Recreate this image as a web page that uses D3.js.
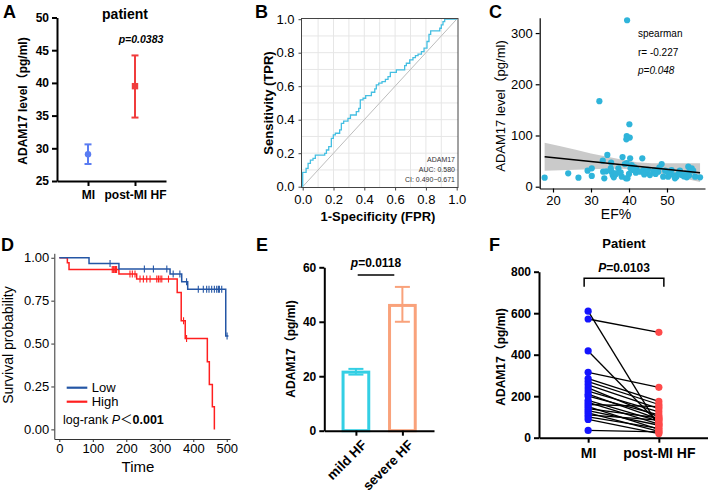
<!DOCTYPE html>
<html><head><meta charset="utf-8">
<script src="https://cdn.jsdelivr.net/npm/d3@7"></script>
<style>
body{margin:0;background:#fff}
svg{font-family:Arial,"Liberation Sans","Noto Sans CJK SC",sans-serif}
</style></head><body>
<svg id="c" width="708" height="496"></svg>
<script>
// ---------- DATA ----------
// A
const aGroups = ["MI", "post-MI HF"];
const aMean = [29.1, 39.5];
const aLow = [27.6, 34.7];
const aHigh = [30.6, 44.2];
const aTicks = [25, 30, 35, 40, 45, 50];
// B (ROC step corners)
const rocFpr = [0,0,0.022,0.035,0.050,0.067,0.082,0.143,0.154,0.169,0.186,0.199,0.212,0.240,0.251,0.266,0.294,0.310,0.348,0.364,0.374,0.392,0.409,0.446,0.468,0.478,0.494,0.515,0.537,0.554,0.569,0.608,0.662,0.673,0.695,0.716,0.732,0.749,0.771,0.788,0.807,0.820,0.831,0.890,0.900,0.911,0.922,1.0];
const rocTpr = [0,0.086,0.110,0.139,0.159,0.169,0.189,0.199,0.219,0.239,0.289,0.309,0.319,0.339,0.378,0.392,0.408,0.428,0.448,0.468,0.518,0.528,0.544,0.564,0.584,0.608,0.618,0.627,0.641,0.657,0.683,0.697,0.723,0.737,0.757,0.771,0.783,0.791,0.807,0.827,0.867,0.910,0.930,0.946,0.966,0.986,1.0,1.0];
const bTicks = [0, 0.2, 0.4, 0.6, 0.8, 1.0];
const bGrid = [0.1,0.2,0.3,0.4,0.5,0.6,0.7,0.8,0.9];
const bText = ["ADAM17", "AUC: 0.580", "CI: 0.490\u22120.671"];
// C
const cEF = [17.8,24.0,26.7,29.1,30.2,30.2,32.2,33.1,34.3,33.2,33.5,35.3,35.2,35.4,35.7,36.0,36.3,37.2,38.1,38.3,38.9,39.2,39.4,39.6,40.3,40.4,40.7,41.1,41.8,42.0,42.9,43.5,43.8,44.5,45.5,46.4,46.8,47.7,48.6,49.0,49.5,50.3,50.8,51.2,52.1,52.5,53.4,53.9,55.2,55.6,56.1,56.5,56.9,57.4,58.7,39.5,40.1,39.4,40.2,39.3,36.6,37.8,40.0,41.5,44.0,45.0,47.0,48.0,50.0,51.8,53.0,54.5,55.0,55.8,34.0];
const cADAM = [17.6,26.1,17.6,31.3,35.8,21.1,167,50.9,62,29.3,16.3,46.9,35.8,29.3,22.8,18.3,26.1,35.8,19.5,57.8,44.1,16.3,46,16.3,55.4,35.8,42.3,32.6,27.4,33.9,29.3,55.4,32.6,29.3,22.8,29.3,32.6,29.3,44.1,19.5,31.3,19.5,26.1,32.6,16.3,19.5,31.3,22.8,18.3,39.1,32.6,35.8,31.3,19.5,18.3,325,122,99,96,92.5,25,28,25,38,24,33,25,38,30,22,25,20,26,22,30];
const cFitX = [17.8, 58.7];
const cFitY = [58.6, 27.4];
const cBandX = [17.8, 22, 26, 30, 34, 38, 42, 46, 50, 54, 58.7];
const cBandLo = [31, 32, 33, 34, 35, 35, 33, 29, 23, 17, 9];
const cBandHi = [86, 79, 72, 65, 59, 53, 48, 46, 46, 46, 46];
const cXTicks = [20, 30, 40, 50];
const cYTicks = [0, 100, 200, 300];
const cStats = ["spearman", "r= -0.227", "p=0.048"];
// D (Kaplan-Meier)
const kmLowT = [0, 88.7, 178, 330.7, 365.5, 383.4, 497, 505];
const kmLowS = [1, 0.967, 0.934, 0.905, 0.86, 0.817, 0.544, 0.544];
const kmLowCens = [151.5, 254, 281, 321, 340, 360, 380, 415, 430, 440, 447, 455, 463, 470, 475, 478, 485, 501];
const kmHighT = [0, 24, 29, 178, 231, 352, 364, 376, 442, 448, 457, 463];
const kmHighS = [1, 0.971, 0.932, 0.905, 0.876, 0.797, 0.633, 0.53, 0.394, 0.262, 0.132, 0];
const kmHighCens = [158, 161, 163, 166, 168, 171, 211, 218, 226, 241, 251, 261, 271, 291, 296, 301, 306, 326, 371, 380];
const dXTicks = [0, 100, 200, 300, 400, 500];
const dYTicks = [0, 0.25, 0.5, 0.75, 1];
const dLegend = ["Low", "High"];
// E
const eGroups = ["mild HF", "severe HF"];
const eMean = [21.5, 46.0];
const eLow = [20.6, 40.0];
const eHigh = [22.7, 52.8];
const eTicks = [0, 20, 40, 60];
// F (paired)
const fGroups = ["MI", "post-MI HF"];
const fMI = [610,572,418,315,285,270,255,240,225,210,200,180,170,160,150,140,130,120,110,100,88,35];
const fHF = [55,508,70,243,175,160,140,100,125,90,110,80,65,150,40,95,60,30,85,45,20,28];
const fTicks = [0, 200, 400, 600, 800];

// ---------- DRAW ----------
const svg = d3.select("#c");
function styleAx(g, o) {
  g.selectAll(".domain").attr("stroke", o.color || "#000").attr("stroke-width", o.w || 1);
  g.selectAll(".tick line").attr("stroke", o.color || "#000").attr("stroke-width", o.w || 1);
  g.selectAll(".tick text").attr("fill", "#000").style("font-size", (o.fs || 12) + "px")
    .style("font-weight", o.bold ? "bold" : "normal").style("font-family", "Arial,'Liberation Sans',sans-serif");
}
function label(x, y, t) {
  svg.append("text").attr("x", x).attr("y", y).text(t)
    .style("font-size", "18px").style("font-weight", "bold");
}
function ytitle(x, y, t, fs, bold) {
  svg.append("text").attr("transform", `translate(${x},${y}) rotate(-90)`)
    .attr("text-anchor", "middle").text(t)
    .style("font-size", fs + "px").style("font-weight", bold ? "bold" : "normal");
}

// ===== Panel A =====
{
  const x = d3.scalePoint().domain(aGroups).range([57, 166]).padding(0.66);
  const y = d3.scaleLinear().domain([25, 50]).range([181, 17.5]);
  const gx = svg.append("g").attr("transform", "translate(0,181)")
    .call(d3.axisBottom(x).tickSize(5).tickSizeOuter(0).tickPadding(4));
  styleAx(gx, {w: 2, bold: true, fs: 12});
  const gy = svg.append("g").attr("transform", "translate(57,0)")
    .call(d3.axisLeft(y).tickValues(aTicks).tickSize(5).tickSizeOuter(0).tickPadding(3));
  styleAx(gy, {w: 2, bold: true, fs: 12});
  const cols = ["#5a7cf2", "#f03c3c"];
  aGroups.forEach((g, i) => {
    const cx = x(g);
    svg.append("line").attr("x1", cx).attr("x2", cx).attr("y1", y(aLow[i])).attr("y2", y(aHigh[i]))
      .attr("stroke", cols[i]).attr("stroke-width", 2);
    [aLow[i], aHigh[i]].forEach(v => svg.append("line").attr("x1", cx - 3.5).attr("x2", cx + 3.5)
      .attr("y1", y(v)).attr("y2", y(v)).attr("stroke", cols[i]).attr("stroke-width", 2));
    if (i === 0) svg.append("circle").attr("cx", cx).attr("cy", y(aMean[i])).attr("r", 3.2).attr("fill", cols[i]);
    else svg.append("rect").attr("x", cx - 3.2).attr("y", y(aMean[i]) - 3.2).attr("width", 6.4).attr("height", 6.4).attr("fill", cols[i]);
  });
  svg.append("text").attr("x", 125).attr("y", 19).attr("text-anchor", "middle").text("patient")
    .style("font-size", "14px").style("font-weight", "bold");
  svg.append("text").attr("x", 141).attr("y", 43).attr("text-anchor", "middle").text("p=0.0383")
    .style("font-size", "10.5px").style("font-weight", "bold").style("font-style", "italic");
  ytitle(27, 101, "ADAM17 level（pg/ml)", 12, true);
  label(3, 18, "A");
}

// ===== Panel B =====
{
  const x = d3.scaleLinear().domain([0, 1]).range([302.7, 456.7]);
  const y = d3.scaleLinear().domain([0, 1]).range([186.7, 19.2]);
  const g = svg.append("g");
  bGrid.forEach(v => {
    g.append("line").attr("x1", x(v)).attr("x2", x(v)).attr("y1", 18.5).attr("y2", 187.5).attr("stroke", "#e6e6e6").attr("stroke-width", 1);
    g.append("line").attr("y1", y(v)).attr("y2", y(v)).attr("x1", 301.5).attr("x2", 458).attr("stroke", "#e6e6e6").attr("stroke-width", 1);
  });
  g.append("line").attr("x1", x(0)).attr("y1", y(0)).attr("x2", x(1)).attr("y2", y(1)).attr("stroke", "#bdbdbd").attr("stroke-width", 1);
  const pts = rocFpr.map((f, i) => [f, rocTpr[i]]);
  g.append("path").datum(pts).attr("fill", "none").attr("stroke", "#45bfe2").attr("stroke-width", 1.3)
    .attr("d", d3.line().x(d => x(d[0])).y(d => y(d[1])).curve(d3.curveStepAfter));
  g.append("rect").attr("x", 301.5).attr("y", 18.5).attr("width", 156.5).attr("height", 169)
    .attr("fill", "none").attr("stroke", "#444").attr("stroke-width", 1);
  const gx = svg.append("g").attr("transform", "translate(0,187.5)")
    .call(d3.axisBottom(x).tickValues(bTicks).tickFormat(d3.format(".1f")).tickSize(3).tickSizeOuter(0).tickPadding(4));
  gx.select(".domain").remove();
  styleAx(gx, {color: "#444", fs: 13});
  const gy = svg.append("g").attr("transform", "translate(301.5,0)")
    .call(d3.axisLeft(y).tickValues(bTicks).tickFormat(d3.format(".1f")).tickSize(3).tickSizeOuter(0).tickPadding(4));
  gy.select(".domain").remove();
  styleAx(gy, {color: "#444", fs: 13});
  bText.forEach((t, i) => svg.append("text").attr("x", 455).attr("y", 161.5 + i * 10).attr("text-anchor", "end")
    .text(t).style("font-size", "7px").attr("fill", "#333"));
  svg.append("text").attr("x", 378).attr("y", 221).attr("text-anchor", "middle").text("1-Specificity (FPR)")
    .style("font-size", "13px").style("font-weight", "bold");
  ytitle(273, 103, "Sensitivity (TPR)", 13, true);
  label(255, 18, "B");
}

// ===== Panel C =====
{
  const x = d3.scaleLinear().domain([16.5, 60]).range([539.7, 705]);
  const y = d3.scaleLinear().domain([-3.5, 330]).range([188.5, 17.7]);
  const g = svg.append("g");
  const band = cBandX.map((v, i) => [v, cBandLo[i], cBandHi[i]]);
  g.append("path").datum(band).attr("fill", "#c4c4c4").attr("opacity", 0.9)
    .attr("d", d3.area().x(d => x(d[0])).y0(d => y(d[1])).y1(d => y(d[2])));
  cEF.forEach((e, i) => g.append("circle").attr("cx", x(e)).attr("cy", y(cADAM[i])).attr("r", 3.1).attr("fill", "#2fb4da"));
  g.append("line").attr("x1", x(cFitX[0])).attr("y1", y(cFitY[0])).attr("x2", x(cFitX[1])).attr("y2", y(cFitY[1]))
    .attr("stroke", "#000").attr("stroke-width", 1.5);
  const gx = svg.append("g").attr("transform", "translate(0,188.5)")
    .call(d3.axisBottom(x).tickValues(cXTicks).tickSize(4).tickSizeOuter(0).tickPadding(3));
  styleAx(gx, {w: 1.2, fs: 13});
  const gy = svg.append("g").attr("transform", "translate(539.7,0)")
    .call(d3.axisLeft(y).tickValues(cYTicks).tickSize(4).tickSizeOuter(0).tickPadding(3));
  styleAx(gy, {w: 1.2, fs: 13});
  cStats.forEach((t, i) => svg.append("text").attr("x", 638).attr("y", 37 + i * 18.5).text(t)
    .style("font-size", "10px").style("font-style", i === 2 ? "italic" : "normal"));
  svg.append("text").attr("x", 616).attr("y", 219).attr("text-anchor", "middle").text("EF%").style("font-size", "14px");
  ytitle(505, 106, "ADAM17 level（pg/ml)", 13, false);
  label(489, 18, "C");
}

// ===== Panel D =====
{
  const x = d3.scaleLinear().domain([-15, 510]).range([54.3, 230.1]);
  const y = d3.scaleLinear().domain([-0.056, 1.026]).range([439, 253.3]);
  const g = svg.append("g");
  const series = [
    {t: kmLowT, s: kmLowS, c: kmLowCens, col: "#2456a5"},
    {t: kmHighT, s: kmHighS, c: kmHighCens, col: "#ff1f1f"}
  ];
  [series[1], series[0]].forEach(se => {
    const pts = se.t.map((t, i) => [t, se.s[i]]);
    g.append("path").datum(pts).attr("fill", "none").attr("stroke", se.col).attr("stroke-width", 1.5)
      .attr("d", d3.line().x(d => x(d[0])).y(d => y(d[1])).curve(d3.curveStepAfter));
    se.c.forEach(ct => {
      let sv = se.s[0];
      se.t.forEach((tt, i) => { if (tt <= ct) sv = se.s[i]; });
      g.append("line").attr("x1", x(ct)).attr("x2", x(ct)).attr("y1", y(sv) - 3.5).attr("y2", y(sv) + 3.5)
        .attr("stroke", se.col).attr("stroke-width", 1.1);
    });
  });
  const gx = svg.append("g").attr("transform", "translate(0,439)")
    .call(d3.axisBottom(x).tickValues(dXTicks).tickSize(3).tickSizeOuter(0).tickPadding(1.5));
  styleAx(gx, {color: "#333", fs: 13});
  const gy = svg.append("g").attr("transform", "translate(54.3,0)")
    .call(d3.axisLeft(y).tickValues(dYTicks).tickFormat(d3.format(".2f")).tickSize(3).tickSizeOuter(0).tickPadding(2));
  styleAx(gy, {color: "#333", fs: 13});
  const lc = ["#2456a5", "#ff1f1f"];
  dLegend.forEach((t, i) => {
    svg.append("line").attr("x1", 66.7).attr("x2", 87.3).attr("y1", 387.7 + i * 14).attr("y2", 387.7 + i * 14)
      .attr("stroke", lc[i]).attr("stroke-width", 2.2);
    svg.append("text").attr("x", 91.7).attr("y", 392.3 + i * 14).text(t).style("font-size", "13px");
  });
  const lr = svg.append("text").attr("x", 63).attr("y", 423.5).style("font-size", "12.5px");
  lr.append("tspan").text("log-rank ");
  lr.append("tspan").text("P").style("font-style", "italic");
  lr.append("tspan").text("＜");
  lr.append("tspan").text("0.001").style("font-weight", "bold");
  svg.append("text").attr("x", 138).attr("y", 471.5).attr("text-anchor", "middle").text("Time").style("font-size", "15px");
  ytitle(13, 345, "Survival probability", 14, false);
  label(1, 251, "D");
}

// ===== Panel E =====
{
  const x = d3.scalePoint().domain(eGroups).range([324.3, 434]).padding(0.68);
  const y = d3.scaleLinear().domain([0, 60]).range([430.7, 267.3]);
  const cols = ["#33cfe4", "#f9a27b"];
  const bw = 28.7;
  eGroups.forEach((gname, i) => {
    const cx = x(gname);
    svg.append("rect").attr("x", cx - bw / 2 + 1.5).attr("y", y(eMean[i])).attr("width", bw - 3)
      .attr("height", y(0) - y(eMean[i])).attr("fill", "#fff").attr("stroke", cols[i]).attr("stroke-width", 3);
    svg.append("line").attr("x1", cx).attr("x2", cx).attr("y1", y(eLow[i])).attr("y2", y(eHigh[i]))
      .attr("stroke", cols[i]).attr("stroke-width", 2);
    [eLow[i], eHigh[i]].forEach(v => svg.append("line").attr("x1", cx - 7.5).attr("x2", cx + 7.5)
      .attr("y1", y(v)).attr("y2", y(v)).attr("stroke", cols[i]).attr("stroke-width", 2));
  });
  const gx = svg.append("g").attr("transform", "translate(0,430.7)")
    .call(d3.axisBottom(x).tickSize(5).tickSizeOuter(0).tickFormat(""));
  styleAx(gx, {w: 2});
  eGroups.forEach(gname => svg.append("text")
    .attr("transform", `translate(${x(gname) + 5},${439}) rotate(-45)`)
    .attr("text-anchor", "end").attr("dy", "0.7em").text(gname)
    .style("font-size", "13.5px").style("font-weight", "bold"));
  const gy = svg.append("g").attr("transform", "translate(324.3,0)")
    .call(d3.axisLeft(y).tickValues(eTicks).tickSize(5).tickSizeOuter(0).tickPadding(3));
  styleAx(gy, {w: 2, bold: true, fs: 12});
  svg.append("line").attr("x1", 357.7).attr("x2", 394.3).attr("y1", 275).attr("y2", 275).attr("stroke", "#000").attr("stroke-width", 1.5);
  const pt = svg.append("text").attr("x", 376).attr("y", 267).attr("text-anchor", "middle")
    .style("font-size", "12px").style("font-weight", "bold");
  pt.append("tspan").text("p").style("font-style", "italic");
  pt.append("tspan").text("=0.0118");
  ytitle(295, 349, "ADAM17（pg/ml)", 12, true);
  label(256, 251, "E");
}

// ===== Panel F =====
{
  const x = d3.scalePoint().domain(fGroups).range([539, 708]).padding(0.695);
  const y = d3.scaleLinear().domain([0, 800]).range([437.7, 271.7]);
  const x0 = x(fGroups[0]), x1 = x(fGroups[1]);
  fMI.forEach((v, i) => svg.append("line").attr("x1", x0).attr("y1", y(v)).attr("x2", x1).attr("y2", y(fHF[i]))
    .attr("stroke", "#000").attr("stroke-width", 1.3));
  fMI.forEach(v => svg.append("circle").attr("cx", x0).attr("cy", y(v)).attr("r", 3.6).attr("fill", "#1414ff"));
  fHF.forEach(v => svg.append("circle").attr("cx", x1).attr("cy", y(v)).attr("r", 3.6).attr("fill", "#ff4a4a"));
  const gx = svg.append("g").attr("transform", "translate(0,437.7)")
    .call(d3.axisBottom(x).tickSize(5).tickSizeOuter(0).tickPadding(5));
  styleAx(gx, {w: 2, bold: true, fs: 14});
  const gy = svg.append("g").attr("transform", "translate(539,0)")
    .call(d3.axisLeft(y).tickValues(fTicks).tickSize(5).tickSizeOuter(0).tickPadding(3));
  styleAx(gy, {w: 2, bold: true, fs: 12});
  svg.append("path").attr("d", `M${x0 - 4},286.7V278.3H${x1 + 5}V286.7`).attr("fill", "none").attr("stroke", "#000").attr("stroke-width", 1.5);
  const pt = svg.append("text").attr("x", 624).attr("y", 272).attr("text-anchor", "middle")
    .style("font-size", "12px").style("font-weight", "bold");
  pt.append("tspan").text("P").style("font-style", "italic");
  pt.append("tspan").text("=0.0103");
  svg.append("text").attr("x", 624).attr("y", 248).attr("text-anchor", "middle").text("Patient")
    .style("font-size", "13px").style("font-weight", "bold");
  ytitle(504.5, 357, "ADAM17（pg/ml)", 12, true);
  label(489, 251, "F");
}
</script>
</body></html>
